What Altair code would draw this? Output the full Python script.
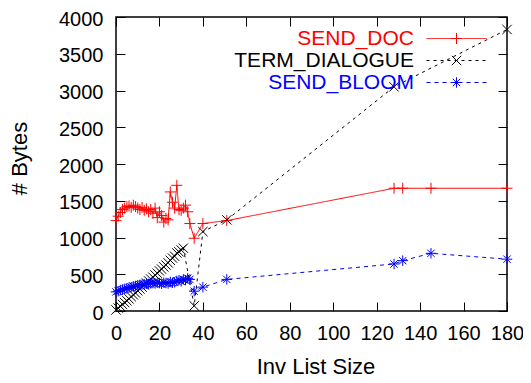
import altair as alt
import pandas as pd

FONT = "Liberation Sans"

series_names = ["SEND_DOC", "TERM_DIALOGUE", "SEND_BLOOM"]
series_colors = ["#ff0000", "#000000", "#0000ff"]

x_ticks = [0, 20, 40, 60, 80, 100, 120, 140, 160, 180]
y_ticks = [0, 500, 1000, 1500, 2000, 2500, 3000, 3500, 4000]

doc_x = list(range(0, 35)) + [36, 40, 51, 128, 132, 145, 180]
doc_y = [1230, 1290, 1340, 1380, 1400, 1420, 1430, 1410, 1440, 1420,
         1400, 1380, 1410, 1370, 1390, 1350, 1380, 1330, 1400, 1270,
         1350, 1300, 1210, 1260, 1240, 1620, 1480, 1400, 1710, 1380,
         1370, 1400, 1440, 1350, 1190,
         990, 1190, 1230, 1670, 1670, 1670, 1670]

term_x = list(range(0, 32)) + [36, 40, 51, 128, 180]
term_y = [15, 40, 65, 90, 115, 140, 165, 195, 220, 245,
          275, 300, 325, 355, 380, 410, 435, 460, 490, 515,
          545, 570, 600, 625, 655, 690, 720, 745, 790, 805,
          830, 855,
          70, 1080, 1240, 3050, 3830]

bloom_x = list(range(0, 35)) + [36, 40, 51, 128, 132, 145, 180]
bloom_y = [260, 270, 285, 290, 300, 310, 320, 325, 335, 340,
           350, 355, 360, 365, 370, 370, 375, 380, 375, 385,
           380, 370, 385, 380, 375, 395, 385, 390, 410, 420,
           405, 430, 420, 445, 430,
           270, 325, 430, 640, 685, 785, 705]

rows = []
for name, xs, ys in [("SEND_DOC", doc_x, doc_y),
                     ("TERM_DIALOGUE", term_x, term_y),
                     ("SEND_BLOOM", bloom_x, bloom_y)]:
    for a, b in zip(xs, ys):
        rows.append({"x": a, "y": b, "series": name})
df = pd.DataFrame(rows)

MARK_SIZE = 121  # 11 px markers

plus_path = "M-1,0L1,0M0,-1L0,1"
x_path = "M-0.85,-0.85L0.85,0.85M-0.85,0.85L0.85,-0.85"
star_path = ("M-0.95,0L0.95,0M0,-0.95L0,0.95"
             "M-0.67,-0.67L0.67,0.67M-0.67,0.67L0.67,-0.67")
legend_line_path = "M-5.45,0L5.45,0"

x_scale = alt.Scale(domain=[0, 180], nice=False, zero=False)
y_scale = alt.Scale(domain=[0, 4000], nice=False)
color_scale = alt.Scale(domain=series_names, range=series_colors)
dash_scale = alt.Scale(domain=series_names, range=[[1, 0], [3, 4], [4, 4]])
shape_scale = alt.Scale(domain=series_names, range=[plus_path, x_path, star_path])

label_color_expr = ("datum.value == 'SEND_DOC' ? '#ff0000' : "
                    "(datum.value == 'SEND_BLOOM' ? '#0000ff' : '#000000')")

legend_common = dict(orient="none", legendX=330, legendY=11, title=None,
                     symbolSize=MARK_SIZE, labelAlign="right", labelOffset={"expr": "-53"},
                     labelFontSize=21, labelFont=FONT, rowPadding=0,
                     padding=0, symbolStrokeWidth=1, labelLimit=400)

line_legend = alt.Legend(symbolType=legend_line_path,
                         labelColor={"expr": label_color_expr},
                         **legend_common)
point_legend = alt.Legend(labelOpacity=0, **legend_common)

lines = alt.Chart(df).mark_line(strokeWidth=1).encode(
    x=alt.X("x:Q", scale=x_scale,
            axis=alt.Axis(orient="bottom", offset=-9, tickSize=9, domain=False, grid=False,
                          values=x_ticks, labelPadding=12, format="d",
                          labelOverlap=False, labelFlush=False,
                          title="Inv List Size",
                          titleX=199.5, titleY=71, titleBaseline="alphabetic")),
    y=alt.Y("y:Q", scale=y_scale,
            axis=alt.Axis(orient="left", offset=-9, tickSize=9, domain=False, grid=False,
                          values=y_ticks, labelPadding=13, format="d", labelOffset=2,
                          labelOverlap=False, labelFlush=False,
                          title="# Bytes",
                          titleX=-99, titleY=141, titleBaseline="alphabetic")),
    color=alt.Color("series:N", scale=color_scale, legend=line_legend),
    strokeDash=alt.StrokeDash("series:N", scale=dash_scale, legend=line_legend),
)

points = alt.Chart(df).mark_point(filled=False, strokeWidth=1, size=MARK_SIZE, opacity=1).encode(
    x=alt.X("x:Q", scale=x_scale,
            axis=alt.Axis(orient="top", offset=-9, tickSize=9, domain=False, grid=False,
                          values=x_ticks, labels=False, title=None)),
    y=alt.Y("y:Q", scale=y_scale,
            axis=alt.Axis(orient="right", offset=-9, tickSize=9, domain=False, grid=False,
                          values=y_ticks, labels=False, title=None)),
    color=alt.Color("series:N", scale=color_scale, legend=point_legend),
    shape=alt.Shape("series:N", scale=shape_scale, legend=point_legend),
)

chart = alt.layer(lines, points).resolve_axis(
    x="independent", y="independent"
).resolve_legend(
    color="independent", shape="independent", strokeDash="independent"
).properties(
    width=391, height=294,
    padding={"left": 108, "top": 9, "right": 16, "bottom": 70},
    autosize=alt.AutoSizeParams(type="none"),
).configure_view(
    stroke="black", strokeWidth=1.5
).configure_axis(
    labelFont=FONT, labelFontSize=20, labelColor="black",
    titleFont=FONT, titleFontSize=22, titleFontWeight="normal", titleColor="black",
    tickColor="black", tickWidth=1,
)

chart.save("out.html", embed_options={"renderer": "svg", "actions": False})
